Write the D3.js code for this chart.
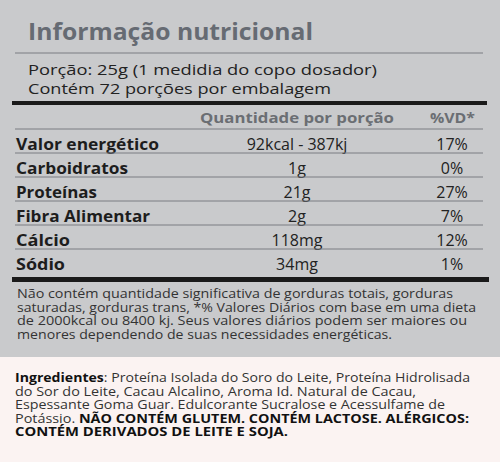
<!DOCTYPE html>
<html><head><meta charset="utf-8">
<script src="https://cdn.jsdelivr.net/npm/d3@7"></script>
<style>body{margin:0;background:#fbf3f2}svg{display:block}</style>
</head><body>
<script>
const nutrients = ["Valor energético","Carboidratos","Proteínas","Fibra Alimentar","Cálcio","Sódio"];
const amounts = ["92kcal - 387kj","1g","21g","2g","118mg","34mg"];
const dailyValues = ["17%","0%","27%","7%","12%","1%"];
const footnote = ["Não contém quantidade significativa de gorduras totais, gorduras",
"saturadas, gorduras trans, *% Valores Diários com base em uma dieta",
"de 2000kcal ou 8400 kj. Seus valores diários podem ser maiores ou",
"menores dependendo de suas necessidades energéticas."];
const W=500,H=462,F="'Open Sans', Lato, sans-serif";
const svg=d3.select("body").append("svg").attr("width",W).attr("height",H);
function fit(sel,w){sel.attr("textLength",w).attr("lengthAdjust","spacingAndGlyphs");return sel;}
svg.append("rect").attr("width",W).attr("height",357).attr("fill","#c9cacc");
svg.append("rect").attr("y",357).attr("width",W).attr("height",105).attr("fill","#fbf3f2");
fit(svg.append("text").attr("x",28).attr("y",40).attr("font-family",F).attr("font-weight",700).attr("font-size",23).attr("fill","#666b73").text("Informação nutricional"),285);
svg.append("line").attr("x1",15).attr("x2",483).attr("y1",53).attr("y2",53).attr("stroke","#7a7d82").attr("stroke-width",1);
fit(svg.append("text").attr("x",28).attr("y",75).attr("font-family",F).attr("font-size",15).attr("fill","#222").text("Porção: 25g (1 medidia do copo dosador)"),349);
fit(svg.append("text").attr("x",28).attr("y",94).attr("font-family",F).attr("font-size",15).attr("fill","#222").text("Contém 72 porções por embalagem"),303);
svg.append("rect").attr("x",12).attr("y",101).attr("width",475).attr("height",4).attr("fill","#1a1a1a");
fit(svg.append("text").attr("x",200).attr("y",123).attr("font-family",F).attr("font-weight",700).attr("font-size",14).attr("fill","#6b6e73").text("Quantidade por porção"),194);
fit(svg.append("text").attr("x",430).attr("y",123).attr("font-family",F).attr("font-weight",700).attr("font-size",14).attr("fill","#6b6e73").text("%VD*"),45);
svg.append("line").attr("x1",15).attr("x2",483).attr("y1",129).attr("y2",129).attr("stroke","#7a7d82");
const labelW=[143,112,81,134,54,49];
const y=d3.scaleBand().domain(nutrients).range([129,273]);
const g=svg.selectAll("g.row").data(nutrients).join("g").attr("transform",d=>`translate(0,${y(d)})`);
g.append("text").attr("x",16).attr("y",y.bandwidth()*0.86).attr("font-family",F).attr("font-weight",700).attr("font-size",16).attr("fill","#1d1d1d").attr("textLength",(d,i)=>labelW[i]).attr("lengthAdjust","spacingAndGlyphs").text(d=>d);
g.append("text").attr("x",297).attr("y",y.bandwidth()*0.86).attr("text-anchor","middle").attr("font-family",F).attr("font-size",16).attr("fill","#222").text((d,i)=>amounts[i]);
g.append("text").attr("x",452).attr("y",y.bandwidth()*0.86).attr("text-anchor","middle").attr("font-family",F).attr("font-size",16).attr("fill","#222").text((d,i)=>dailyValues[i]);
g.filter((d,i)=>i<nutrients.length-1).append("line").attr("x1",15).attr("x2",483).attr("y1",y.bandwidth()).attr("y2",y.bandwidth()).attr("stroke","#7a7d82");
svg.append("rect").attr("x",12).attr("y",277).attr("width",477).attr("height",5).attr("fill","#1a1a1a");
const fnW=[436,459,450,375];
svg.selectAll("text.fn").data(footnote).join("text").attr("x",17).attr("y",(d,i)=>298+i*13.5).attr("font-family",F).attr("font-size",12.5).attr("fill","#333").attr("textLength",(d,i)=>fnW[i]).attr("lengthAdjust","spacingAndGlyphs").text(d=>d);
const ing=[
 [["Ingredientes",1],[": Proteína Isolada do Soro do Leite, Proteína Hidrolisada",0]],
 [["do Sor do Leite, Cacau Alcalino, Aroma Id. Natural de Cacau,",0]],
 [["Espessante Goma Guar. Edulcorante Sucralose e Acessulfame de",0]],
 [["Potássio. ",0],["NÃO CONTÉM GLUTEM. CONTÉM LACTOSE. ALÉRGICOS:",1]],
 [["CONTÉM DERIVADOS DE LEITE E SOJA.",1]]];
const ingW=[455,401,430,454,273];
ing.forEach((line,i)=>{const t=svg.append("text").attr("x",15).attr("y",382+i*13.5).attr("font-family",F).attr("font-size",12.5).attr("fill","#333").attr("textLength",ingW[i]).attr("lengthAdjust","spacingAndGlyphs");
 line.forEach(([s,b])=>t.append("tspan").attr("font-weight",b?700:400).attr("fill",b?"#111":"#333").text(s));});
</script></body></html>
